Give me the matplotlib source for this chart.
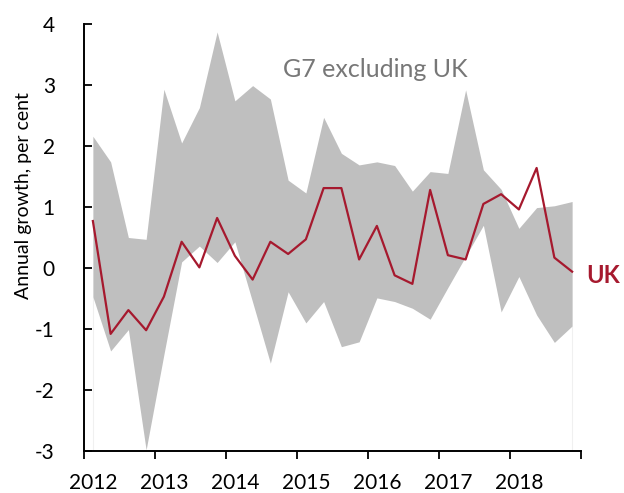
import matplotlib
matplotlib.use("Agg")
import matplotlib.pyplot as plt
import numpy as np

plt.rcParams['font.family'] = ['Lato', 'DejaVu Sans']

# Data (quarterly, 2012 Q1 - 2018 Q4)
years = ['2012', '2013', '2014', '2015', '2016', '2017', '2018']
quarters_per_year = 4

g7_upper = [2.16, 1.74, 0.50, 0.47, 2.93, 2.05, 2.63, 3.87, 2.74, 2.99,
            2.77, 1.44, 1.23, 2.47, 1.88, 1.69, 1.74, 1.68, 1.26, 1.58,
            1.55, 2.92, 1.61, 1.29, 0.65, 0.99, 1.02, 1.09]
g7_lower = [-0.47, -1.36, -1.01, -2.98, -1.42, 0.10, 0.36, 0.09, 0.43, -0.56,
            -1.56, -0.39, -0.90, -0.55, -1.29, -1.21, -0.49, -0.55, -0.66, -0.84,
            -0.32, 0.19, 0.70, -0.72, -0.14, -0.77, -1.22, -0.95]
uk = [0.77, -1.08, -0.69, -1.02, -0.47, 0.43, 0.01, 0.82, 0.20, -0.19,
      0.43, 0.23, 0.47, 1.31, 1.31, 0.14, 0.69, -0.12, -0.26, 1.28,
      0.21, 0.14, 1.05, 1.21, 0.96, 1.64, 0.17, -0.06]
y_ticks = [-3, -2, -1, 0, 1, 2, 3, 4]

RED = '#a6192e'
GREY = '#bfbfbf'

fig = plt.figure(figsize=(6.24, 4.93), dpi=100)
ax = fig.add_axes([84/624, 42/493, (581-84)/624, (451-24)/493])

n = len(uk)
x = np.arange(n)
ax.fill_between(x, g7_lower, g7_upper, color=GREY, linewidth=0, zorder=1)
ax.vlines([x[0], x[-1]], y_ticks[0], [g7_lower[0], g7_lower[-1]],
          color='#f0f0f0', linewidth=0.8, zorder=0)
ax.plot(x, uk, color=RED, linewidth=1.6, zorder=3)

ax.set_xlim(-0.5, n - 0.5)
ax.set_ylim(y_ticks[0], y_ticks[-1])

# x axis: ticks at year boundaries, labels at Q1 positions
ax.set_xticks(np.arange(-0.5, n, quarters_per_year))
ax.set_xticklabels([])
ax.set_xticks(np.arange(0, n, quarters_per_year), minor=True)
ax.set_xticklabels(years, minor=True)
ax.tick_params(axis='x', which='major', direction='out', length=6, width=1.3, color='black')
ax.tick_params(axis='x', which='minor', length=0, pad=16, labelsize=15)

ax.set_yticks(y_ticks)
ax.set_yticklabels([str(v) for v in y_ticks])
ax.tick_params(axis='y', direction='in', length=6, width=1.3, pad=21, labelsize=15)

for s in ['top', 'right']:
    ax.spines[s].set_visible(False)
for s in ['left', 'bottom']:
    ax.spines[s].set_linewidth(1.4)

fig.text(24/624, 1 - 196/493, 'Annual growth, per cent', rotation=90,
         ha='center', va='center', fontsize=14)

ax.text(15.9, 3.13, 'G7 excluding UK', color='#777777', fontsize=18,
        ha='center', va='baseline')
ax.text(27.8, -0.25, 'UK', color=RED, fontsize=17, fontweight='bold',
        ha='left', va='baseline', clip_on=False)

fig.savefig('out.png', dpi=100)
